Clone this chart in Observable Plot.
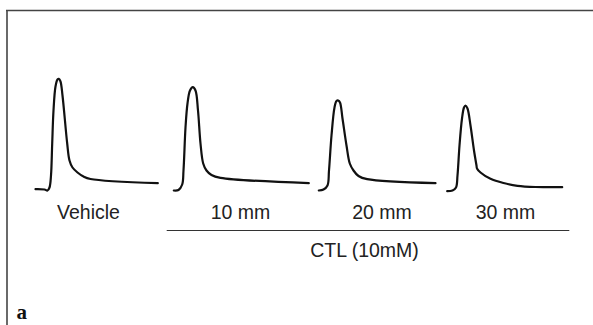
<!DOCTYPE html>
<html>
<head>
<meta charset="utf-8">
<script src="https://cdn.jsdelivr.net/npm/d3@7"></script>
<script src="https://cdn.jsdelivr.net/npm/@observablehq/plot@0.6"></script>
<style>
  html, body { margin: 0; padding: 0; background: #fff; }
  #chart svg { display: block; }
</style>
</head>
<body>
<div id="chart"></div>
<script>
// Trace names and time offsets (start of each recording along the x axis)
const traceNames = ["Vehicle", "10 mm", "20 mm", "30 mm"];
const traceStart = [35, 173.3, 318.3, 446.7];
const labelX = [88, 240, 381.5, 505];

// Each trace: time (relative to its start) and amplitude above baseline
const vehicleT = [0, 9, 12, 14, 15.5, 16.7, 18, 20, 22, 23.3, 25, 27, 31.7, 34, 37, 42, 48, 55, 122.3];
const vehicleV = [1.3, 1, 0, 3, 15, 47, 80, 104, 111, 111.7, 109, 95, 47, 30, 23, 18, 14, 11.5, 7.3];

const ctl10T = [0, 4.7, 8.4, 9.7, 11.7, 13.7, 16.2, 19, 21.7, 24.2, 26.7, 29.4, 32.7, 37.7, 46.7, 135];
const ctl10V = [0, 0.5, 6, 20, 63, 87, 100, 103.3, 100, 80, 47, 27, 20, 15.5, 12.7, 7.3];

const ctl20T = [0, 4.7, 8.7, 10.2, 12.7, 15.7, 17.7, 19.4, 21.2, 23.7, 27.7, 31, 34.7, 39.7, 48.4, 116.7];
const ctl20V = [0, 1, 5, 20, 55, 83, 89.5, 90, 88, 72, 45, 27, 20, 14.5, 11.3, 7.3];

const ctl30T = [0, 5.3, 8.8, 10.3, 12.3, 14.8, 16.8, 18.3, 20.3, 23.3, 26.8, 29.3, 29.8, 33.3, 43.3, 56.3, 70.3, 88.3, 115];
const ctl30V = [-0.7, 0, 3, 15, 45, 72, 83, 85, 82, 65, 40, 25, 22, 18, 11.7, 7.5, 4.7, 3.5, 3.3];

const traceT = [vehicleT, ctl10T, ctl20T, ctl30T];
const traceV = [vehicleV, ctl10V, ctl20V, ctl30V];

// Group label and bracket span
const groupLabel = "CTL (10mM)";
const groupSpan = [166.7, 569.3];
const panelLetter = "a";

// Build table for the line marks
const traces = [];
traceNames.forEach((name, i) => {
  traceT[i].forEach((t, j) => {
    traces.push({ name, t: traceStart[i] + t, v: traceV[i][j] });
  });
});
const labels = traceNames.map((name, i) => ({ name, x: labelX[i] }));

const W = 593, H = 325;
const chart = Plot.plot({
  width: W,
  height: H,
  margin: 0,
  x: { domain: [0, W], range: [0, W], axis: null },
  y: { domain: [-135, 190], range: [H, 0], axis: null },
  style: { background: "#fff" },
  marks: [
    // panel border (top and left)
    Plot.ruleY([180], { x1: 6, x2: W, stroke: "#444", strokeWidth: 1.6 }),
    Plot.ruleX([6.5], { y1: 180, y2: -135, stroke: "#444", strokeWidth: 1.6 }),
    // traces
    Plot.line(traces, {
      x: "t", y: "v", z: "name",
      stroke: "#111", strokeWidth: 2.2,
      curve: "catmull-rom", strokeLinejoin: "round", strokeLinecap: "round"
    }),
    // trace labels
    Plot.text(labels, {
      x: "x", y: () => -22.5, text: "name",
      fontSize: 19.5, fill: "#222", fontFamily: "Liberation Sans, Arial, sans-serif",
      textAnchor: "middle", lineAnchor: "middle"
    }),
    // group bracket line
    Plot.ruleY([-40], { x1: groupSpan[0], x2: groupSpan[1], stroke: "#333", strokeWidth: 1.2 }),
    Plot.text([groupLabel], {
      x: () => (groupSpan[0] + groupSpan[1]) / 2 - 4, y: () => -60, text: d => d,
      fontSize: 19.5, fill: "#222", fontFamily: "Liberation Sans, Arial, sans-serif",
      textAnchor: "middle", lineAnchor: "middle"
    }),
    // panel letter
    Plot.text([panelLetter], {
      x: () => 16, y: () => -128, text: d => d,
      fontSize: 21, fontWeight: "bold", fill: "#111",
      fontFamily: "Liberation Serif, Times New Roman, serif",
      textAnchor: "start", lineAnchor: "bottom"
    })
  ]
});
document.getElementById("chart").appendChild(chart);
</script>
</body>
</html>
